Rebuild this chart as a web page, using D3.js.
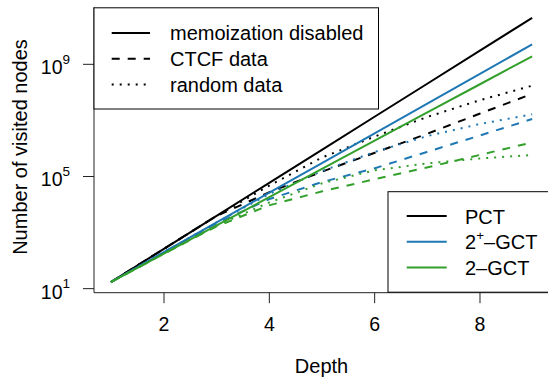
<!DOCTYPE html>
<html>
<head>
<meta charset="utf-8">
<script src="https://cdnjs.cloudflare.com/ajax/libs/d3/7.8.5/d3.min.js"></script>
<style>
  html, body { margin: 0; padding: 0; background: #fff; }
  svg { display: block; font-family: "Liberation Sans", Arial, Helvetica, sans-serif; }
</style>
</head>
<body>
<div id="chart"></div>
<script>
// depth on x, visited nodes (log scale) on y
var depths = [1, 2, 3, 4, 5, 6, 7, 8, 9];

var pctNoMemo   = [16.4, 247, 3.7e3, 5.6e4, 8.4e5, 1.27e7, 1.91e8, 2.88e9, 4.35e10];
var pctCtcf     = [16.4, 247, 3.7e3, 2.57e4, 1.41e5, 6.6e5, 3.16e6, 1.66e7, 8.5e7];
var pctRandom   = [16.4, 247, 3.7e3, 4.47e4, 4.47e5, 2.51e6, 1.26e7, 5.0e7, 1.66e8];

var gct2pNoMemo = [16.4, 188, 2.16e3, 2.48e4, 2.84e5, 3.27e6, 3.75e7, 4.31e8, 4.94e9];
var gct2pCtcf   = [16.4, 188, 2.0e3, 1.48e4, 6.0e4, 1.86e5, 7.2e5, 2.75e6, 1.07e7];
var gct2pRandom = [16.4, 188, 2.16e3, 2.24e4, 1.48e5, 7.1e5, 2.63e6, 7.1e6, 1.58e7];

var gct2NoMemo  = [16.4, 166, 1.69e3, 1.72e4, 1.75e5, 1.77e6, 1.80e7, 1.83e8, 1.86e9];
var gct2Ctcf    = [16.4, 166, 1.58e3, 8.9e3, 2.8e4, 7.6e4, 2.0e5, 5.6e5, 1.58e6];
var gct2Random  = [16.4, 166, 1.69e3, 1.12e4, 5.4e4, 1.58e5, 2.8e5, 4.2e5, 5.6e5];

var xTicks = [2, 4, 6, 8];
var yTickExp = [1, 5, 9];

var dataLegend = ["memoization disabled", "CTCF data", "random data"];
var methodLegend = ["PCT", "2+\u2013GCT", "2\u2013GCT"];

var colors = {pct: "#000000", gct2p: "#1f78b4", gct2: "#33a02c"};
var dashes = {solid: null, dashed: "8,8", dotted: "2,6"};

var series = [
    {vals: pctNoMemo,   color: colors.pct,   dash: dashes.solid},
    {vals: pctCtcf,     color: colors.pct,   dash: dashes.dashed},
    {vals: pctRandom,   color: colors.pct,   dash: dashes.dotted},
    {vals: gct2pNoMemo, color: colors.gct2p, dash: dashes.solid},
    {vals: gct2pCtcf,   color: colors.gct2p, dash: dashes.dashed},
    {vals: gct2pRandom, color: colors.gct2p, dash: dashes.dotted},
    {vals: gct2NoMemo,  color: colors.gct2,  dash: dashes.solid},
    {vals: gct2Ctcf,    color: colors.gct2,  dash: dashes.dashed},
    {vals: gct2Random,  color: colors.gct2,  dash: dashes.dotted}
];

var W = 548, H = 378;
var plot = {left: 94, right: 549, top: 7.3, bottom: 292.7};
var fs = "20px";

var svg = d3.select("#chart").append("svg")
    .attr("width", W)
    .attr("height", H);

// R style 4% padding on both axes
var xExt = d3.extent(depths), xPad = (xExt[1] - xExt[0]) * 0.04;
var x = d3.scaleLinear()
    .domain([xExt[0] - xPad, xExt[1] + xPad])
    .range([plot.left, plot.right]);

var allVals = [].concat.apply([], series.map(function(s){ return s.vals; }));
var lo = Math.log10(d3.min(allVals)), hi = Math.log10(d3.max(allVals)), lPad = (hi - lo) * 0.04;
var y = d3.scaleLog()
    .domain([Math.pow(10, lo - lPad), Math.pow(10, hi + lPad)])
    .range([plot.bottom, plot.top]);

var line = d3.line()
    .x(function(d, i){ return x(depths[i]); })
    .y(function(d){ return y(d); });

svg.append("g").selectAll("path")
    .data(series)
    .enter()
    .append("path")
    .attr("d", function(s){ return line(s.vals); })
    .attr("fill", "none")
    .attr("stroke", function(s){ return s.color; })
    .attr("stroke-width", 2)
    .attr("stroke-dasharray", function(s){ return s.dash; });

// axes
var xAxis = svg.append("g")
    .attr("transform", "translate(0," + plot.bottom + ")")
    .call(d3.axisBottom(x).tickValues(xTicks).tickSize(10.5).tickPadding(13.5).tickSizeOuter(0));
xAxis.select(".domain").remove();
xAxis.selectAll("line").attr("stroke", "#222");
xAxis.selectAll("text").attr("font-size", "19.5px").attr("font-family", null).attr("fill", "#000");

var yAxis = svg.append("g")
    .attr("transform", "translate(" + plot.left + ",0)")
    .call(d3.axisLeft(y).tickValues(yTickExp.map(function(e){ return Math.pow(10, e); }))
        .tickSize(11).tickFormat(""));
yAxis.select(".domain").remove();
yAxis.selectAll("line").attr("stroke", "#222");
yAxis.selectAll(".tick").each(function(d){
    var t = d3.select(this).select("text")
        .attr("x", -24)
        .attr("dy", "10px")
        .attr("font-size", "19.5px")
        .attr("font-family", null)
        .attr("fill", "#000")
        .attr("text-anchor", "end");
    t.append("tspan").text("10");
    t.append("tspan").attr("font-size", "13.5px").attr("dy", "-10.5px").text(Math.round(Math.log10(d)));
});

// L shaped box
svg.append("path")
    .attr("d", "M" + plot.left + "," + plot.top + "V" + plot.bottom + "H" + plot.right)
    .attr("fill", "none")
    .attr("stroke", "#222")
    .attr("stroke-width", 1);

// axis titles
svg.append("text")
    .attr("x", (plot.left + plot.right) / 2)
    .attr("y", 372.7)
    .attr("text-anchor", "middle")
    .attr("font-size", fs)
    .text("Depth");

svg.append("text")
    .attr("transform", "translate(27," + 147 + ") rotate(-90)")
    .attr("text-anchor", "middle")
    .attr("font-size", fs)
    .text("Number of visited nodes");

// legend: line types
var leg1 = svg.append("g");
leg1.append("rect")
    .attr("x", plot.left).attr("y", plot.top + 0.5)
    .attr("width", 378.5 - plot.left).attr("height", 109 - plot.top - 0.5)
    .attr("fill", "#fff").attr("stroke", "#000").attr("stroke-width", 1);
var leg1Dash = [dashes.solid, dashes.dashed, dashes.dotted];
dataLegend.forEach(function(lbl, i){
    var ly = 33 + i * 25.7;
    leg1.append("line")
        .attr("x1", 111.7).attr("x2", 150).attr("y1", ly).attr("y2", ly)
        .attr("stroke", "#000").attr("stroke-width", 2)
        .attr("stroke-dasharray", leg1Dash[i]);
    leg1.append("text")
        .attr("x", 170).attr("y", ly + 7.3)
        .attr("font-size", fs)
        .text(lbl);
});

// legend: methods
var leg2 = svg.append("g");
leg2.append("rect")
    .attr("x", 388).attr("y", 191.7)
    .attr("width", 170).attr("height", 100.5)
    .attr("fill", "#fff").attr("stroke", "#000").attr("stroke-width", 1);
var leg2Col = [colors.pct, colors.gct2p, colors.gct2];
methodLegend.forEach(function(lbl, i){
    var ly = 216 + i * 25.7;
    leg2.append("line")
        .attr("x1", 406.7).attr("x2", 446.7).attr("y1", ly).attr("y2", ly)
        .attr("stroke", leg2Col[i]).attr("stroke-width", 2);
    var t = leg2.append("text")
        .attr("x", 465).attr("y", ly + 7.5)
        .attr("font-size", fs);
    if (lbl.indexOf("+") > 0) {
        var parts = lbl.split("+");
        t.append("tspan").text(parts[0]);
        t.append("tspan").attr("font-size", "13.5px").attr("dy", "-9px").text("+");
        t.append("tspan").attr("dy", "9px").text(parts[1]);
    } else {
        t.text(lbl);
    }
});
</script>
</body>
</html>
